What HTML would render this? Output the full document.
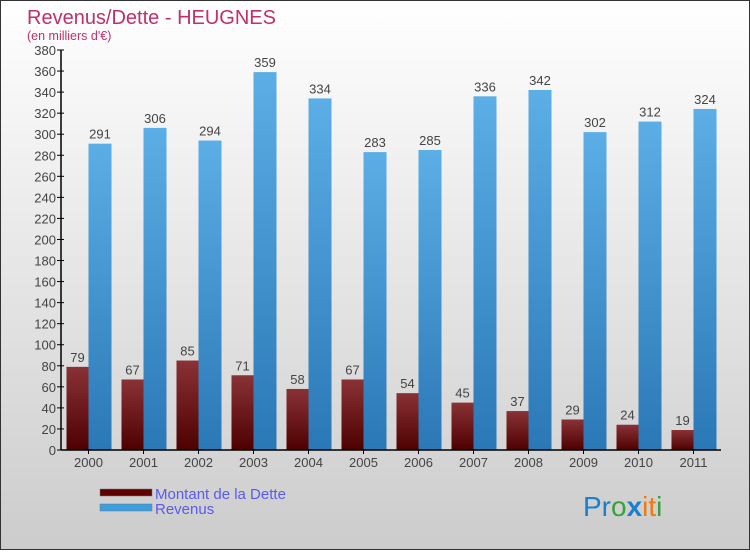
<!DOCTYPE html>
<html><head><meta charset="utf-8"><style>
html,body{margin:0;padding:0}
body{width:750px;height:550px;overflow:hidden;font-family:"Liberation Sans",sans-serif}
</style></head><body>
<svg id="chart" width="750" height="550" xmlns="http://www.w3.org/2000/svg">
<defs>
<linearGradient id="bg" x1="0" y1="0" x2="0" y2="1"><stop offset="0" stop-color="#ffffff"/><stop offset="1" stop-color="#cccccc"/></linearGradient>
<linearGradient id="gd" x1="0" y1="0" x2="0" y2="1"><stop offset="0" stop-color="#8a3236"/><stop offset="1" stop-color="#4e0000"/></linearGradient>
<linearGradient id="gr" x1="0" y1="0" x2="0" y2="1"><stop offset="0" stop-color="#5caee6"/><stop offset="1" stop-color="#2a78b6"/></linearGradient>
</defs>
<rect x="0.5" y="0.5" width="749" height="549" fill="url(#bg)" stroke="#333"/>
<text x="27" y="24" font-size="20" fill="#c0306a">Revenus/Dette - HEUGNES</text>
<text x="27" y="40" font-size="12.5" fill="#c0306a">(en milliers d'€)</text>
<g id="plot"></g>
<g>
<rect x="100" y="489" width="52" height="7" fill="#600000" stroke="#777" stroke-width="0.5"/>
<rect x="100" y="504" width="52" height="7" fill="#3a9ee0" stroke="#777" stroke-width="0.5"/>
<text x="155" y="499" font-size="15" fill="#5a5af0">Montant de la Dette</text>
<text x="155" y="514" font-size="15" fill="#5a5af0">Revenus</text>
</g>
<text x="583" y="516" font-size="28"><tspan fill="#1a7fd0">Pr</tspan><tspan fill="#3aa03a">o</tspan><tspan fill="#1a7fd0" font-weight="bold">x</tspan><tspan fill="#f07a10">it</tspan><tspan fill="#3aa03a">i</tspan></text>
</svg>
<script>
const years=["2000","2001","2002","2003","2004","2005","2006","2007","2008","2009","2010","2011"];
const dette=[79,67,85,71,58,67,54,45,37,29,24,19];
const revenus=[291,306,294,359,334,283,285,336,342,302,312,324];
const yTicks=[0,20,40,60,80,100,120,140,160,180,200,220,240,260,280,300,320,340,360,380];
const NS="http://www.w3.org/2000/svg";
const g=document.getElementById('plot');
const x0=61,x1=721,yBase=450,yTop=50,yMax=380;
const bw=(x1-x0)/years.length;
function y(v){return yBase-(v/yMax)*(yBase-yTop);}
function cx(i){return x0+bw*i+bw/2;}
function el(t,a){const e=document.createElementNS(NS,t);for(const k in a)e.setAttribute(k,a[k]);g.appendChild(e);return e;}
yTicks.forEach(t=>{
 const l=el('line',{x1:x0-4,x2:x0+3,y1:y(t),y2:y(t),stroke:'#000'});
 
 
 const tx=el('text',{x:x0-5,y:y(t)+5,'font-size':13,fill:'#444','text-anchor':'end'});
 tx.textContent=t;
 
 
});
years.forEach((yr,i)=>{
 const c=cx(i);
 const b1=el('rect',{x:c-22,y:y(dette[i]),width:22,height:yBase-y(dette[i]),fill:'url(#gd)'});
 
 
 const b2=el('rect',{x:c,y:y(revenus[i]),width:23,height:yBase-y(revenus[i]),fill:'url(#gr)'});
 
 
 const v1=el('text',{x:c-11,y:y(dette[i])-5,'font-size':13,fill:'#444','text-anchor':'middle'});
 v1.textContent=dette[i];
 
 
 const v2=el('text',{x:c+11.5,y:y(revenus[i])-5,'font-size':13,fill:'#444','text-anchor':'middle'});
 v2.textContent=revenus[i];
 
 
 const tk=el('line',{x1:c,x2:c,y1:yBase,y2:yBase+4,stroke:'#000'});
 
 
 const xl=el('text',{x:c,y:yBase+17,'font-size':13,fill:'#444','text-anchor':'middle'});
 xl.textContent=yr;
 
 
});
const ya=el('line',{x1:x0,x2:x0,y1:yTop,y2:yBase,stroke:'#000','stroke-width':1.5});


const xa=el('line',{x1:x0,x2:x1,y1:yBase,y2:yBase,stroke:'#000','stroke-width':1.5});


</script>
</body></html>
